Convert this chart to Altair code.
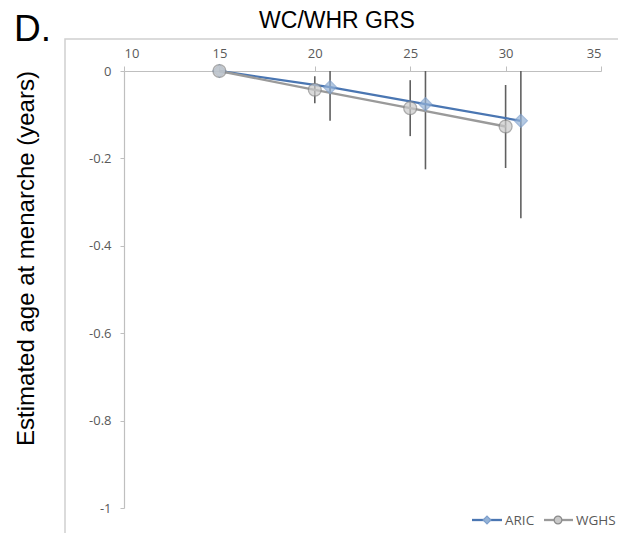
import altair as alt
import pandas as pd

series = ["ARIC", "WGHS"]
aric_x = [15, 20.8, 25.8, 30.8]
aric_y = [0, -0.037, -0.076, -0.114]
aric_err = [0, 0.077, 0.149, 0.223]
wghs_x = [15, 20, 25, 30]
wghs_y = [0, -0.043, -0.085, -0.127]
wghs_err = [0, 0.031, 0.064, 0.095]
x_ticks = [10, 15, 20, 25, 30, 35]
y_ticks = [0, -0.2, -0.4, -0.6, -0.8, -1]

rows = []
for s, xs, ys, es in [("ARIC", aric_x, aric_y, aric_err), ("WGHS", wghs_x, wghs_y, wghs_err)]:
    for xv, yv, ev in zip(xs, ys, es):
        rows.append({"series": s, "x": xv, "y": yv, "lower": yv - ev, "upper": yv + ev})
df = pd.DataFrame(rows)

W, H = 477, 437
LBL_FONT = "Open Sans"
line_colors = ["#4a76b2", "#9a9a9a"]
fill_colors = ["#95b3d7", "#c9c9c9"]
stroke_colors = ["#7d9fcc", "#8a8a8a"]
shapes = ["diamond", "circle"]

x_axis = alt.Axis(orient="top", values=x_ticks, grid=False, domainColor="#bfbfbf",
                  tickColor="#bfbfbf", tickSize=5, labelPadding=6, labelFont=LBL_FONT,
                  labelFontSize=13, labelColor="#595959", title=None, domainWidth=1.2)
y_axis = alt.Axis(orient="left", values=y_ticks, grid=False, domainColor="#bfbfbf",
                  tickColor="#bfbfbf", tickSize=4, labelPadding=9, labelFont=LBL_FONT,
                  labelFontSize=13, labelColor="#595959", domainWidth=1.2,
                  labelExpr="datum.value == 0 ? '0' : '-' + format(abs(datum.value), '.1~f')",
                  title="Estimated age at menarche (years)", titleFont="Liberation Sans",
                  titleFontSize=24, titleFontWeight="normal", titleColor="#000000",
                  titleX=-91, titleY=187, titleBaseline="alphabetic", titleAngle=270)

xs = alt.Scale(domain=[10, 35], nice=False)
ys = alt.Scale(domain=[-1, 0], nice=False)
color_scale = alt.Scale(domain=series, range=line_colors)

base = alt.Chart(df)

frame = alt.Chart(pd.DataFrame({"d": [0]})).mark_rect(fill="transparent", stroke="#d0d0d0", strokeWidth=1.5).encode(
    x=alt.value(-59), x2=alt.value(W + 60), y=alt.value(-32), y2=alt.value(H + 60))

errbars = base.mark_rule(clip=True, color="#606060", strokeWidth=1.6).encode(
    x=alt.X("x:Q", scale=xs, axis=x_axis),
    y=alt.Y("lower:Q", scale=ys, axis=y_axis),
    y2="upper:Q")

lines = base.mark_line(strokeWidth=2.3).encode(
    x=alt.X("x:Q", scale=xs, axis=x_axis),
    y=alt.Y("y:Q", scale=ys, axis=y_axis),
    color=alt.Color("series:N", scale=color_scale, legend=None),
    order=alt.Order("x:Q"))

points = base.mark_point(filled=True, size=165, strokeWidth=1.3).encode(
    x=alt.X("x:Q", scale=xs, axis=x_axis),
    y=alt.Y("y:Q", scale=ys, axis=y_axis),
    shape=alt.Shape("series:N", scale=alt.Scale(domain=series, range=shapes), legend=None),
    fill=alt.Fill("series:N", scale=alt.Scale(domain=series, range=fill_colors), legend=None),
    stroke=alt.Stroke("series:N", scale=alt.Scale(domain=series, range=stroke_colors), legend=None))

# manual legend (bottom right)
leg_layers = []
leg_pos = [(348, 378, 363, 381), (420, 449, 434, 452)]
for i, s in enumerate(series):
    a, b, c, t = leg_pos[i]
    ld = pd.DataFrame({"series": [s]})
    leg_layers.append(alt.Chart(ld).mark_rule(color=line_colors[i], strokeWidth=2.3).encode(
        x=alt.value(a), x2=alt.value(b), y=alt.value(449)))
    leg_layers.append(alt.Chart(ld).mark_point(filled=True, shape=shapes[i], size=60, fill=fill_colors[i],
                                               stroke=stroke_colors[i], strokeWidth=1.2, opacity=1).encode(
        x=alt.value(c), y=alt.value(449)))
    leg_layers.append(alt.Chart(ld).mark_text(align="left", baseline="middle", font=LBL_FONT, fontSize=13.5,
                                              color="#595959").encode(
        x=alt.value(t), y=alt.value(449.5), text="series:N"))

title_df = pd.DataFrame({"t": ["WC/WHR GRS"]})
title = alt.Chart(title_df).mark_text(align="center", baseline="alphabetic", font="Liberation Sans",
                                      fontSize=23, color="#000000").encode(
    x=alt.value(213), y=alt.value(-43), text="t:N")
panel_df = pd.DataFrame({"t": ["D."]})
panel = alt.Chart(panel_df).mark_text(align="left", baseline="alphabetic", font="Liberation Sans",
                                      fontSize=37, color="#000000").encode(
    x=alt.value(-110), y=alt.value(-30), text="t:N")

chart = alt.layer(frame, errbars, lines, points, *leg_layers, title, panel).properties(
    width=W, height=H,
    padding={"left": 116, "top": 63, "right": 17, "bottom": 25},
    autosize=alt.AutoSizeParams(type="none"),
).configure_view(strokeWidth=0)

chart.save("out.html", embed_options={"renderer": "svg", "actions": False})
